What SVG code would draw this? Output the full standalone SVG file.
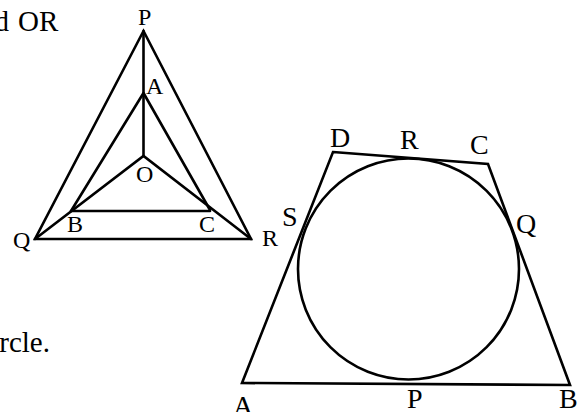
<svg xmlns="http://www.w3.org/2000/svg" width="588" height="412" viewBox="0 0 588 412">
<style>
.ln{stroke:#000;stroke-width:2.6;fill:none;stroke-linecap:round;stroke-linejoin:miter}
.t{font-family:"Liberation Serif","Times New Roman",serif;fill:#000}
.s{font-size:24px}
.m{font-size:28px}
</style>
<rect width="588" height="412" fill="#fff"/>
<g id="text">
<text class="t" x="9" y="31" font-size="29" text-anchor="end">d</text>
<text class="t" x="18" y="31" font-size="29">OR</text>
<text class="t" x="50" y="352" font-size="29" text-anchor="end">rcle.</text>
</g>
<g id="triangles">
<g id="lines-left" class="ln">
<path d="M143.5,31 L35,239 L251,239 Z"/>
<path d="M143.5,31 L143.5,156"/>
<path d="M143.5,93 L71,211 M143.5,93 L210,210"/>
<path d="M35,239 L143.5,156 L251,239"/>
<path d="M71,211 L210,211"/>
</g>
<g id="labels-left" class="t s">
<text x="138" y="25">P</text>
<text x="146" y="94">A</text>
<text x="136" y="182">O</text>
<text x="67" y="232">B</text>
<text x="199" y="232">C</text>
<text x="13" y="248">Q</text>
<text x="262" y="246">R</text>
</g>
</g>
<g id="quad">
<g id="lines-right" class="ln">
<path d="M333,152 L488,164 L570,385 L242,383 Z"/>
<circle cx="408.5" cy="269" r="110.5"/>
</g>
<g id="labels-right" class="t m">
<text x="330" y="147">D</text>
<text x="400" y="149">R</text>
<text x="470" y="154">C</text>
<text x="282" y="226">S</text>
<text x="516" y="233">Q</text>
<text x="233" y="415">A</text>
<text x="407" y="408">P</text>
<text x="559" y="408">B</text>
</g>
</g>
</svg>
